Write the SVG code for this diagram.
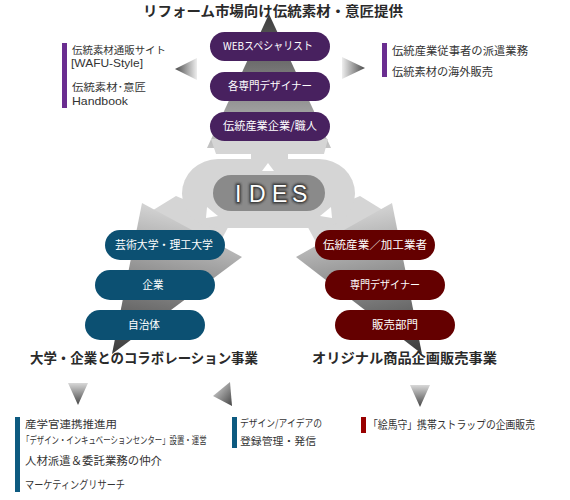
<svg xmlns="http://www.w3.org/2000/svg" width="570" height="500" viewBox="0 0 570 500">
<defs>
<linearGradient id="gUp" x1="0" y1="0" x2="0" y2="1"><stop offset="0" stop-color="#3c3c3c"/><stop offset="1" stop-color="#c4c4c4"/></linearGradient>
<linearGradient id="gL" x1="142" y1="203" x2="112" y2="354" gradientUnits="userSpaceOnUse"><stop offset="0" stop-color="#d4d4d4"/><stop offset="1" stop-color="#3a3a3a"/></linearGradient>
<linearGradient id="gR" x1="392" y1="203" x2="422" y2="354" gradientUnits="userSpaceOnUse"><stop offset="0" stop-color="#d4d4d4"/><stop offset="1" stop-color="#3a3a3a"/></linearGradient>
<linearGradient id="gArrL" x1="0" y1="0" x2="1" y2="0"><stop offset="0" stop-color="#4a4a4a"/><stop offset="1" stop-color="#eeeeee"/></linearGradient>
<linearGradient id="gArrR" x1="0" y1="0" x2="1" y2="0"><stop offset="0" stop-color="#eeeeee"/><stop offset="1" stop-color="#4a4a4a"/></linearGradient>
<linearGradient id="gArrD" x1="0" y1="0" x2="0" y2="1"><stop offset="0" stop-color="#d8d8d8"/><stop offset="1" stop-color="#444"/></linearGradient>
<linearGradient id="gArrDR" x1="0" y1="0" x2="1" y2="1"><stop offset="0" stop-color="#e4e4e4"/><stop offset="1" stop-color="#444"/></linearGradient>
<filter id="glow" x="-20%" y="-20%" width="140%" height="140%"><feGaussianBlur stdDeviation="1.3"/></filter>
</defs>
<style>
.title{font-family:"Noto Sans CJK JP","Liberation Serif",serif;font-weight:bold;font-size:14px;fill:#2a2a2a}
.pt{font-family:"Noto Sans CJK JP","Liberation Sans",sans-serif;font-size:11px;fill:#ffffff;text-anchor:middle}
.st{font-family:"Noto Sans CJK JP","Liberation Sans",sans-serif;font-size:11px;fill:#333333}
.sm{font-size:10px}
.lat{font-family:"Liberation Sans","Noto Sans CJK JP",sans-serif}
.purple{fill:#48215f}
.blue{fill:#0c5072}
.red{fill:#640000}
.lg{fill:#d5d5d5}
</style>

<g id="background-shapes">
<polygon points="269,14 207,148 331,148" fill="url(#gUp)"/>
<polygon class="lg" points="211,139 328,139 324,154 216,154"/>
<rect class="lg" x="251" y="150" width="37" height="14"/>
<polygon class="lg" points="176,196 232,220 218,246 150,212"/>
<polygon class="lg" points="360,196 304,220 318,246 386,212"/>
<rect class="lg" x="182" y="159" width="173" height="69" rx="36"/>
<polygon points="142,203 242,257 112,354" fill="url(#gL)"/>
<polygon points="392,203 296,257 422,354" fill="url(#gR)"/>
<polygon points="268,163 262,171 274,171" fill="#ffffff"/>
<polygon points="207,207 218,216 206,218" fill="#ffffff"/>
<polygon points="331,207 320,216 332,218" fill="#ffffff"/>
</g>

<g id="title"><text class="title" x="143" y="16" textLength="260" lengthAdjust="spacingAndGlyphs">リフォーム市場向け伝統素材・意匠提供</text></g>

<g id="ides">
<rect x="213" y="175" width="112" height="36" rx="18" fill="#8a8a8a"/>
<g font-family="Liberation Sans, Arial, sans-serif" font-size="23">
<text x="235 249 272 292" y="202" fill="none" stroke="#333" stroke-width="3" filter="url(#glow)">IDES</text>
<text x="235 249 272 292" y="202" fill="#ffffff">IDES</text>
</g>
</g>

<g id="node-web"><rect class="purple" x="210" y="32" width="120" height="29" rx="14.5"/><text class="pt" x="268" y="50" textLength="90" lengthAdjust="spacingAndGlyphs">WEBスペシャリスト</text></g>
<g id="node-designer-top"><rect class="purple" x="210" y="72" width="120" height="29" rx="14.5"/><text class="pt" x="270" y="90" textLength="84" lengthAdjust="spacingAndGlyphs">各専門デザイナー</text></g>
<g id="node-craftsman"><rect class="purple" x="210" y="112" width="120" height="29" rx="14.5"/><text class="pt" x="270" y="130" textLength="94" lengthAdjust="spacingAndGlyphs">伝統産業企業/職人</text></g>

<g id="node-univ"><rect class="blue" x="105" y="230" width="120" height="30" rx="15"/><text class="pt" x="164" y="249" textLength="98" lengthAdjust="spacingAndGlyphs">芸術大学・理工大学</text></g>
<g id="node-company"><rect class="blue" x="95" y="270" width="120" height="30" rx="15"/><text class="pt" x="153" y="289" textLength="21" lengthAdjust="spacingAndGlyphs">企業</text></g>
<g id="node-local"><rect class="blue" x="85" y="310" width="120" height="30" rx="15"/><text class="pt" x="144" y="329" textLength="32" lengthAdjust="spacingAndGlyphs">自治体</text></g>

<g id="node-industry"><rect class="red" x="315" y="230" width="120" height="30" rx="15"/><text class="pt" x="375" y="249" textLength="104" lengthAdjust="spacingAndGlyphs">伝統産業／加工業者</text></g>
<g id="node-designer"><rect class="red" x="325" y="270" width="120" height="30" rx="15"/><text class="pt" x="385" y="289" textLength="70" lengthAdjust="spacingAndGlyphs">専門デザイナー</text></g>
<g id="node-sales"><rect class="red" x="335" y="310" width="120" height="30" rx="15"/><text class="pt" x="395" y="329" textLength="46" lengthAdjust="spacingAndGlyphs">販売部門</text></g>

<g id="section-labels">
<text class="title" x="30" y="363" textLength="228" lengthAdjust="spacingAndGlyphs">大学・企業とのコラボレーション事業</text>
<text class="title" x="312" y="363" textLength="185" lengthAdjust="spacingAndGlyphs">オリジナル商品企画販売事業</text>
</g>

<g id="connectors">
<polygon points="175,69 197,58 197,80" fill="url(#gArrL)"/>
<polygon points="365,68 342,57 342,79" fill="url(#gArrR)"/>
<polygon points="68,383 88,383 78,405" fill="url(#gArrD)"/>
<polygon points="230,382 213,396 232,406" fill="url(#gArrDR)"/>
<polygon points="410,385 430,385 420,407" fill="url(#gArrD)"/>
</g>

<g id="note-left-top">
<rect x="62" y="43" width="5" height="65" fill="#6a2d90"/>
<text class="st sm" x="72" y="54" textLength="94" lengthAdjust="spacingAndGlyphs">伝統素材通販サイト</text>
<text class="st lat" x="71" y="67" textLength="72" lengthAdjust="spacingAndGlyphs">[WAFU-Style]</text>
<text class="st sm" x="72" y="91" textLength="74" lengthAdjust="spacingAndGlyphs">伝統素材･意匠</text>
<text class="st lat" x="72" y="105" textLength="56" lengthAdjust="spacingAndGlyphs">Handbook</text>
</g>

<g id="note-right-top">
<rect x="382" y="43" width="5" height="34" fill="#6a2d90"/>
<text class="st" x="392" y="55" textLength="136" lengthAdjust="spacingAndGlyphs">伝統産業従事者の派遣業務</text>
<text class="st" x="392" y="76" textLength="101" lengthAdjust="spacingAndGlyphs">伝統素材の海外販売</text>
</g>

<g id="note-left-bottom">
<rect x="15" y="417" width="5" height="75" fill="#0d5a80"/>
<text class="st sm" x="25" y="428" textLength="92" lengthAdjust="spacingAndGlyphs">産学官連携推進用</text>
<text class="st sm" transform="translate(22,444) scale(0.74,1)" x="0" y="0">「デザイン・インキュベーションセンター」設置・運営</text>
<text class="st" x="25" y="465" textLength="137" lengthAdjust="spacingAndGlyphs">人材派遣＆委託業務の仲介</text>
<text class="st" x="25" y="489" textLength="100" lengthAdjust="spacingAndGlyphs">マーケティングリサーチ</text>
</g>

<g id="note-mid-bottom">
<rect x="232" y="417" width="5" height="31" fill="#0d5a80"/>
<text class="st sm" x="240" y="427" textLength="82" lengthAdjust="spacingAndGlyphs">デザイン/アイデアの</text>
<text class="st sm" x="240" y="445" textLength="76" lengthAdjust="spacingAndGlyphs">登録管理・発信</text>
</g>

<g id="note-right-bottom">
<rect x="361" y="417" width="5" height="16" fill="#990000"/>
<text class="st" x="368" y="429" textLength="167" lengthAdjust="spacingAndGlyphs">「絵馬守」携帯ストラップの企画販売</text>
</g>
</svg>
